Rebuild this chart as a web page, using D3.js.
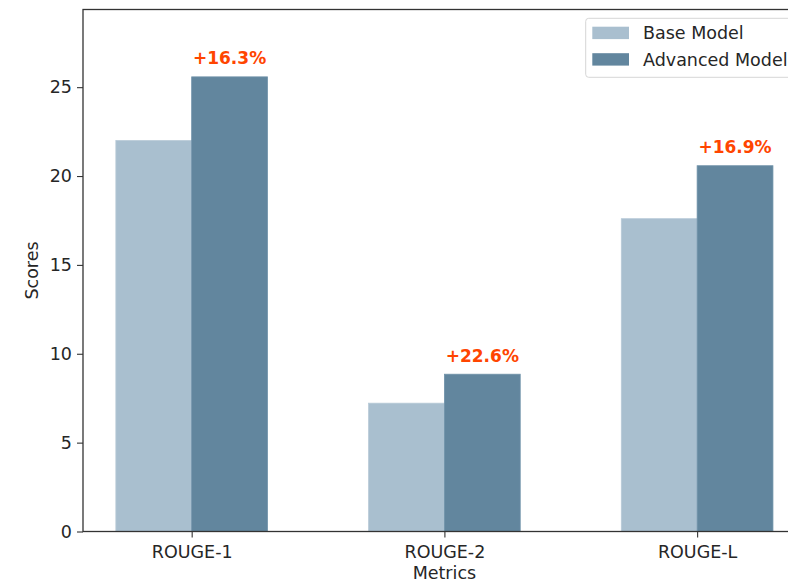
<!DOCTYPE html>
<html><head><meta charset="utf-8">
<script src="https://cdn.jsdelivr.net/npm/d3@7"></script>
<style>body{margin:0;background:#fff}svg{display:block;font-family:"DejaVu Sans",sans-serif}</style>
</head><body><svg id="c" width="788" height="583"></svg>
<script>
const categories = ["ROUGE-1", "ROUGE-2", "ROUGE-L"];
const baseScores = [22.0, 7.22, 17.6];
const advancedScores = [25.58, 8.85, 20.58];
const improvementLabels = ["+16.3%", "+22.6%", "+16.9%"];
const seriesNames = ["Base Model", "Advanced Model"];
const yTicks = [0, 5, 10, 15, 20, 25];

const colors = ["#a9bfcf", "#62869e"];
const L = 83, R = 805.8, T = 9.5, B = 531.5;
const barW = 0.3;
const FS = 17.5;
const svg = d3.select("#c");
const x = d3.scaleLinear().domain([-0.43, 2.43]).range([L, R]);
const y = d3.scaleLinear().domain([0, 29.37]).range([B, T]);

const series = [baseScores, advancedScores];
series.forEach((vals, s) => {
  svg.append("g").selectAll("rect").data(vals).join("rect")
    .attr("x", (d, i) => x(i + (s === 0 ? -barW : 0)))
    .attr("width", x(barW) - x(0))
    .attr("y", d => y(d))
    .attr("height", d => y(0) - y(d))
    .attr("fill", colors[s])
    .attr("stroke", s === 0 ? "#b8cad8" : "#7093aa")
    .attr("stroke-width", 0.8);
});

svg.append("g").selectAll("text").data(advancedScores).join("text")
  .attr("x", (d, i) => x(i + barW / 2))
  .attr("y", d => y(d) - 12.5)
  .attr("text-anchor", "middle")
  .attr("font-size", 17)
  .attr("font-weight", "bold")
  .attr("fill", "#ff4500")
  .text((d, i) => improvementLabels[i]);

// axes
const yAxis = d3.axisLeft(y).tickValues(yTicks).tickSize(6).tickPadding(5).tickFormat(d3.format("d"));
const gy = svg.append("g").attr("transform", `translate(${L},0)`).call(yAxis);
const xAxis = d3.axisBottom(x).tickValues([0, 1, 2]).tickSize(6).tickPadding(5).tickFormat(i => categories[i]);
const gx = svg.append("g").attr("transform", `translate(0,${B})`).call(xAxis);
[gx, gy].forEach(g => {
  g.select(".domain").remove();
  g.selectAll("line").attr("stroke", "#333").attr("stroke-width", 1.1);
  g.selectAll("text").attr("fill", "#262626").attr("font-size", FS).attr("font-family", "DejaVu Sans");
});
gx.selectAll("text").attr("dy", "0.88em");

// spines
svg.append("rect").attr("x", L).attr("y", T).attr("width", R - L).attr("height", B - T)
  .attr("fill", "none").attr("stroke", "#333").attr("stroke-width", 1.3);

svg.append("text").attr("x", (L + R) / 2).attr("y", 579).attr("text-anchor", "middle")
  .attr("font-size", FS).attr("fill", "#262626").text("Metrics");
svg.append("text").attr("transform", `translate(38,${(T + B) / 2}) rotate(-90)`).attr("text-anchor", "middle")
  .attr("font-size", FS).attr("fill", "#262626").text("Scores");

// legend
const lg = svg.append("g");
lg.append("rect").attr("x", 585.7).attr("y", 18.3).attr("width", 240).attr("height", 59).attr("rx", 3)
  .attr("fill", "#fff").attr("fill-opacity", 0.8).attr("stroke", "#d6d6d6");
seriesNames.forEach((n, i) => {
  lg.append("rect").attr("x", 592.3).attr("y", 26.7 + i * 26.5).attr("width", 36.7).attr("height", 12.4).attr("fill", colors[i]);
  lg.append("text").attr("x", 643).attr("y", 39.2 + i * 26.5).attr("font-size", FS).attr("fill", "#262626").text(n);
});
</script></body></html>
